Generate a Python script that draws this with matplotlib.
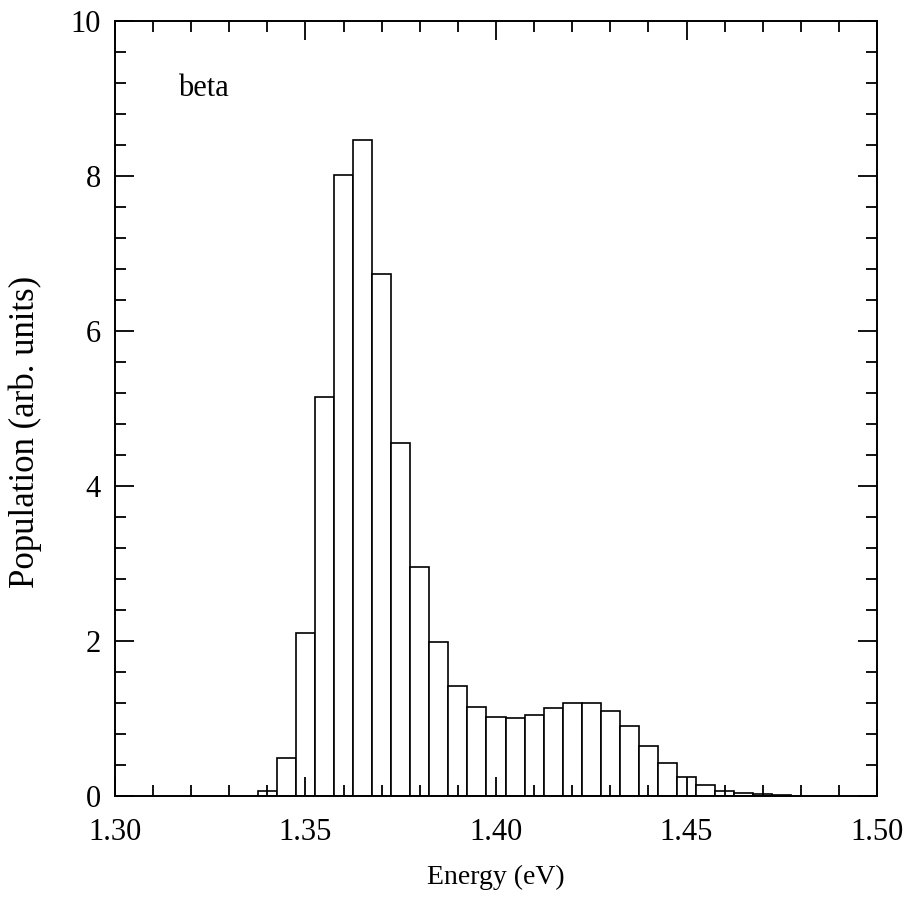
import numpy as np
import matplotlib
matplotlib.use("Agg")
import matplotlib.pyplot as plt
from matplotlib.ticker import MultipleLocator, FormatStrFormatter

# Histogram of level populations (bin centres in eV, width 0.005 eV)
bin_centers = [1.340, 1.345, 1.350, 1.355, 1.360, 1.365, 1.370, 1.375,
               1.380, 1.385, 1.390, 1.395, 1.400, 1.405, 1.410, 1.415,
               1.420, 1.425, 1.430, 1.435, 1.440, 1.445, 1.450, 1.455,
               1.460, 1.465, 1.470, 1.475]
population = [0.07, 0.49, 2.10, 5.15, 8.01, 8.47, 6.74, 4.56,
              2.96, 1.99, 1.42, 1.15, 1.02, 1.01, 1.05, 1.13,
              1.20, 1.20, 1.10, 0.90, 0.65, 0.42, 0.25, 0.14,
              0.07, 0.04, 0.02, 0.01]
bin_width = 0.005

x_ticks = [1.30, 1.35, 1.40, 1.45, 1.50]
y_ticks = [0, 2, 4, 6, 8, 10]

plt.rcParams['font.family'] = ['Liberation Serif', 'DejaVu Serif']

fig = plt.figure(figsize=(9.11, 9.13), dpi=100)
ax = fig.add_axes([0.1262, 0.1281, 0.8365, 0.8489])

ax.bar(bin_centers, population, width=bin_width, align='center',
       facecolor='white', edgecolor='black', linewidth=1.2)

ax.set_xlim(1.30, 1.50)
ax.set_ylim(0, 10)
ax.set_xticks(x_ticks)
ax.set_yticks(y_ticks)
ax.xaxis.set_major_formatter(FormatStrFormatter('%.2f'))
ax.xaxis.set_minor_locator(MultipleLocator(0.01))
ax.yaxis.set_minor_locator(MultipleLocator(0.4))

ax.tick_params(which='both', direction='in', top=True, right=True,
               width=1.3, colors='black', labelsize=22)
ax.tick_params(which='major', length=14)
ax.tick_params(which='minor', length=8)
ax.tick_params(axis='x', which='major', pad=16)
ax.tick_params(axis='y', which='major', pad=10)

for side in ax.spines.values():
    side.set_linewidth(1.4)

ax.set_xlabel('Energy (eV)', fontsize=20)
ax.xaxis.set_label_coords(0.5, -0.089)
ax.set_ylabel('Population (arb. units)', fontsize=25)
ax.yaxis.set_label_coords(-0.096, 0.47)

ax.text(0.083, 0.903, 'beta', transform=ax.transAxes, fontsize=22,
        ha='left', va='baseline')

fig.savefig('out.png', dpi=100, facecolor='white')
